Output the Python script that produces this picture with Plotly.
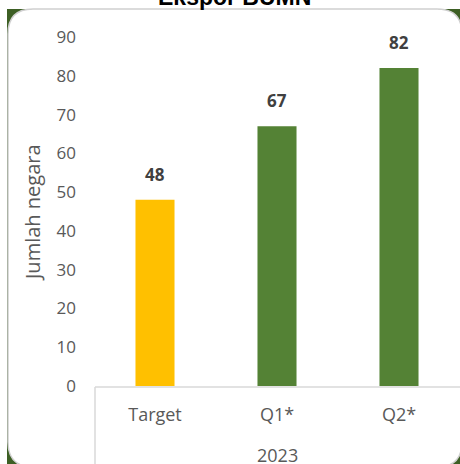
import plotly.graph_objects as go

categories = ["Target", "Q1*", "Q2*"]
values = [48, 67, 82]
bar_colors = ["#FFC000", "#548235", "#548235"]
group_label = "2023"
title_text = "Ekspor BUMN"
y_title = "Jumlah negara"

W, H = 460, 464
L, R, T, B = 94, 0, 37, 78
PW, PH = W - L - R, H - T - B


def px(x):
    return (x - L) / PW


def py(y):
    return (H - B - y) / PH


fig = go.Figure()
fig.add_trace(go.Bar(
    x=categories, y=values, marker=dict(color=bar_colors, line=dict(width=0)),
    width=0.32, hoverinfo="skip",
))

# data labels
for c, v in zip(categories, values):
    fig.add_annotation(x=c, y=v, text=f"<b>{v}</b>", showarrow=False,
                       yanchor="bottom", yshift=12,
                       font=dict(family="Open Sans", size=17, color="#404040"))

# background frame: green behind, white rounded box with grey border
fig.add_shape(type="rect", xref="paper", yref="paper",
              x0=px(7), x1=px(480), y0=py(9), y1=py(480),
              fillcolor="#3D5F24", line=dict(width=0), layer="below")

r = 25
lx, rx, ty, by = 8, 462, 9, 467
pts = (f"M {px(lx)},{py(ty + r)} "
       f"Q {px(lx)},{py(ty)} {px(lx + r)},{py(ty)} "
       f"L {px(rx - r)},{py(ty)} "
       f"Q {px(rx)},{py(ty)} {px(rx)},{py(ty + r)} "
       f"L {px(rx)},{py(by - r)} "
       f"Q {px(rx)},{py(by)} {px(rx - r)},{py(by)} "
       f"L {px(lx + r)},{py(by)} "
       f"Q {px(lx)},{py(by)} {px(lx)},{py(by - r)} Z")
fig.add_shape(type="path", xref="paper", yref="paper", path=pts,
              fillcolor="white", line=dict(color="#D0D0D0", width=1.5), layer="below")

# category divider lines
fig.add_shape(type="line", xref="paper", yref="paper",
              x0=px(95), x1=px(95), y0=py(387), y1=py(470),
              line=dict(color="#D9D9D9", width=1.5))
fig.add_shape(type="line", xref="paper", yref="paper",
              x0=px(95), x1=px(470), y0=py(387), y1=py(387),
              line=dict(color="#D9D9D9", width=1.5))

# group label
fig.add_annotation(x=categories[1], xref="x", yref="paper", y=py(455),
                   text=group_label, showarrow=False, yanchor="middle",
                   font=dict(family="Open Sans", size=18, color="#595959"))

# y axis title
fig.add_annotation(x=px(32), xref="paper", yref="paper", y=py(213),
                   text=y_title, showarrow=False, textangle=-90,
                   xanchor="center", yanchor="middle",
                   font=dict(family="Open Sans", size=20, color="#595959"))

# title
fig.add_annotation(x=px(234), xref="paper", yref="paper", y=py(-3),
                   text=f"<b>{title_text}</b>", showarrow=False, yanchor="middle",
                   font=dict(family="Liberation Sans", size=23, color="#000000"))

fig.update_layout(
    width=W, height=H,
    margin=dict(l=L, r=R, t=T, b=B, autoexpand=False),
    paper_bgcolor="white", plot_bgcolor="rgba(0,0,0,0)",
    showlegend=False, bargap=0.68,
    xaxis=dict(type="category", range=[-0.5, 2.5], showgrid=False, showline=False,
               zeroline=False, ticks="", ticklabelstandoff=16,
               tickfont=dict(family="Open Sans", size=18, color="#595959")),
    yaxis=dict(range=[0, 90], dtick=10, showgrid=False, showline=False, zeroline=False,
               ticks="", ticklabelstandoff=17,
               tickfont=dict(family="Open Sans", size=17, color="#595959")),
)

fig.write_html("out.html", config={"displayModeBar": False},
               post_script="document.body.style.margin='0';document.body.style.overflow='hidden';")
